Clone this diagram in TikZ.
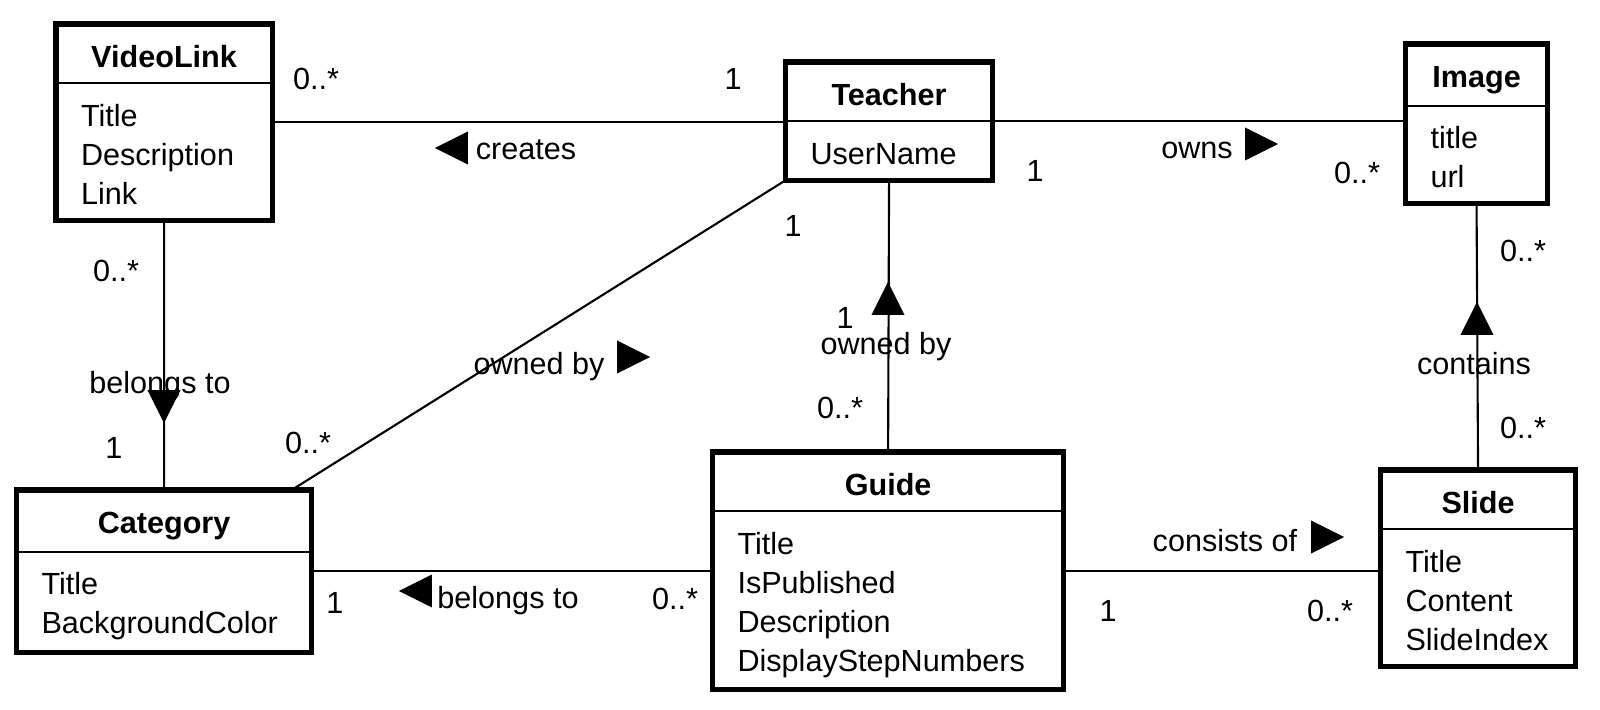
\documentclass[tikz,border=0pt]{standalone}
\usepackage{fontspec}
\setmainfont{Liberation Sans}
\usepackage{tikz}
\usetikzlibrary{shapes.multipart,shapes.geometric}

\newcommand{\umlstrut}{\rule[-0.04cm]{0pt}{0.35cm}}
\newcommand{\umltitle}[1]{\hfill\bfseries\umlstrut #1\hfill\null}

\tikzset{
  umlclass/.style={ draw, line width=0.6pt, rectangle split, rectangle split parts=2,
    anchor=north west, inner xsep=0.25cm, inner ysep=0.11cm, outer sep=0pt,
    text width=#1, align=left,
    append after command={\pgfextra{%
      % thick outer frame, the split line stays thin
      \draw[line width=1.45pt] (\tikzlastnode.north west) rectangle (\tikzlastnode.south east);}} }
}
\tikzset{
  navarrow/.style={ fill, isosceles triangle, isosceles triangle stretches,
    inner sep=0pt, minimum width=0.33cm, minimum height=0.33cm, anchor=apex }
}
\tikzset{
  mult/.style={ inner sep=0pt, text height=0.22cm, text depth=0pt }
}

\begin{document}
\begin{tikzpicture}[x=0.01cm, y=-0.01cm, font=\fontsize{8.7}{11.1}\selectfont]
      \useasboundingbox (0,0) rectangle (1600,709);

      \node[umlclass=1.66cm] (VideoLink) at (56,24)
        {\umltitle{VideoLink}
         \nodepart{two}\umlstrut Title\\\umlstrut Description\\\umlstrut Link};
      \node[umlclass=1.57cm] (Teacher) at (785.5,62)
        {\umltitle{Teacher}
         \nodepart{two}\umlstrut UserName};
      \node[umlclass=0.92cm] (Image) at (1405.5,44)
        {\umltitle{Image}
         \nodepart{two}\umlstrut title\\\umlstrut url};

      \node[umlclass=2.45cm] (Category) at (16.5,490)
        {\umltitle{Category}
         \nodepart{two}\umlstrut Title\\\umlstrut BackgroundColor};
      \node[umlclass=3.01cm] (Guide) at (712.5,452)
        {\umltitle{Guide}
         \nodepart{two}\umlstrut Title\\\umlstrut IsPublished\\\umlstrut Description\\\umlstrut DisplayStepNumbers};
      \node[umlclass=1.45cm] (Slide) at (1380.5,470)
        {\umltitle{Slide}
         \nodepart{two}\umlstrut Title\\\umlstrut Content\\\umlstrut SlideIndex};

      \begin{scope}[line width=0.6pt]
        \draw (VideoLink.east) -- (VideoLink.east -| Teacher.west);
        \draw (Teacher.east) -- (Teacher.east -| Image.west);
        \draw (VideoLink.south) -- (Category.north);
        \draw (Teacher.south west) -- ([xshift=-0.2cm]Category.north east);
        \draw (Teacher.south) -- (Guide.north);
        \draw (Image.south) -- (Slide.north);
        \draw (Category.east) -- (Category.east -| Guide.west);
        \draw (Guide.east) -- (Guide.east -| Slide.west);
      \end{scope}

      % VideoLink -- Teacher
      \node[mult] (vtMa) at (316,78) {0..*};
      \node[mult] (vtMb) at (733,78) {1};
      \node[navarrow, rotate=180] (vtArr) at (433,148) {};
      \node[mult] (vtName) at (526,148) {creates};

      % Teacher -- Image
      \node[mult] (tiMa) at (1035,170) {1};
      \node[mult] (tiName) at (1197,147) {owns};
      \node[navarrow] (tiArr) at (1280,144) {};
      \node[mult] (tiMb) at (1357,172) {0..*};

      % VideoLink -- Category
      \node[mult] (vcMa) at (116,270) {0..*};
      \node[mult] (vcName) at (160,382) {belongs to};
      \node[navarrow, rotate=-90] (vcArr) at (164,425) {};
      \node[mult] (vcMb) at (114,447) {1};

      % Category -- Teacher
      \node[mult] (ctMa) at (308,442) {0..*};
      \node[mult] (ctName) at (539,363) {owned by};
      \node[navarrow] (ctArr) at (652,357) {};
      \node[mult] (ctMb) at (793,225) {1};

      % Guide -- Teacher
      \node[navarrow, rotate=90] (gtArr) at (888,280) {};
      \node[mult] (gtMb) at (845,317) {1};
      \node[mult] (gtName) at (886,343) {owned by};
      \node[mult] (gtMa) at (840,407) {0..*};

      % Slide -- Image
      \node[mult] (siMb) at (1523,250) {0..*};
      \node[navarrow, rotate=90] (siArr) at (1477,300) {};
      \node[mult] (siName) at (1474,363) {contains};
      \node[mult] (siMa) at (1523,427) {0..*};

      % Guide -- Slide
      \node[mult] (gsName) at (1225,540) {consists of};
      \node[navarrow] (gsArr) at (1346,537) {};
      \node[mult] (gsMa) at (1108,610) {1};
      \node[mult] (gsMb) at (1330,610) {0..*};

      % Guide -- Category
      \node[mult] (gcMb) at (335,602) {1};
      \node[navarrow, rotate=180] (gcArr) at (397,591) {};
      \node[mult] (gcName) at (508,597) {belongs to};
      \node[mult] (gcMa) at (675,598) {0..*};
    \end{tikzpicture}
\end{document}
